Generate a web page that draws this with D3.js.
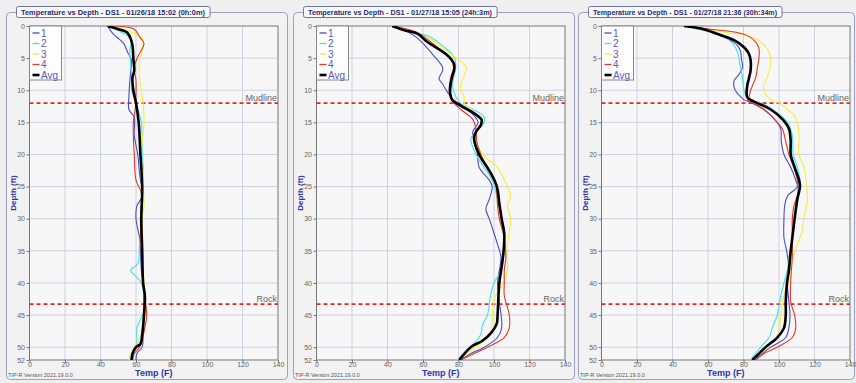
<!DOCTYPE html>
<html>
<head>
<meta charset="utf-8">
<script src="https://cdn.jsdelivr.net/npm/d3@7"></script>
<style>
  html, body { margin: 0; padding: 0; background: #efefef; }
  svg { display: block; font-family: "Liberation Sans", Arial, sans-serif; }
</style>
</head>
<body>
<svg id="chart" width="856" height="383"></svg>
<script>
// Run titles
const runTitles = [
  "Temperature vs Depth - DS1 - 01/26/18 15:02 (0h:0m)",
  "Temperature vs Depth - DS1 - 01/27/18 15:05 (24h:3m)",
  "Temperature vs Depth - DS1 - 01/27/18 21:36 (30h:34m)",
];
const seriesNames = ["1", "2", "3", "4", "Avg"];
const xTicks = [0, 20, 40, 60, 80, 100, 120, 140];
const yTicks = [0, 5, 10, 15, 20, 25, 30, 35, 40, 45, 50, 52];
const markers = [{ label: "Mudline", depth: 12 }, { label: "Rock", depth: 43.3 }];

// [depth ft, temp F] — run 1 (0h:0m)
const run1_s1 = [[0,44],[1.2,47],[2.7,53],[4.2,55.5],[5.3,57.5],[7,57],[8.6,56.5],[11,56],[13,56],[14.2,59],[17,59],[20,61],[23,62],[26.5,63.5],[28,60.5],[30,60],[33,62],[35,62.5],[38,63],[40,64],[45,64.5],[48,64],[50,63.5],[51,60.5],[52,60]];
const run1_s2 = [[0,44],[1,52],[2,57],[4,56.5],[6,57],[8,57.5],[10,57.5],[12,60],[15,63],[20,63.5],[22,64],[25,63.5],[30,63.5],[34,62],[37,61],[38,57],[39,60],[40,63],[42,64.5],[44,65],[46,62],[47,60.5],[49,60.5],[50,60],[51,59],[52,58]];
const run1_s3 = [[0,44],[1,58],[2,63.5],[4,63.5],[5,62],[8,62],[10,63],[12,64],[15,64.5],[18,63.5],[20,63],[25,64],[28,64.5],[30,63.5],[35,63.5],[38,64],[40,64.5],[45,65],[48,63],[50,59.5],[51,57],[52,56]];
const run1_s4 = [[0,44],[0.5,59],[1.7,62],[2.7,64.5],[4.8,61],[6.4,59],[8.5,60],[11,60],[12,60],[15,58.5],[17,58.5],[20,59],[24,60],[26,63],[30,62.5],[35,63],[38,63.5],[40,64],[45,66],[47,65],[50,62],[51,59],[52,58]];
const run1_avg = [[0,44],[0.5,50],[1,55],[2,57],[3,58],[5,58.5],[7,59],[8,58],[10,58.5],[12,60],[15,61.5],[20,62.5],[25,63.5],[30,63],[35,63.5],[40,64],[42,65],[45,64.5],[48,63.5],[49.5,62.5],[50,60],[51,58],[52,57.5]];

// run 2 (24h:3m)
const run2_s1 = [[0,42.7],[0.7,50],[1.7,56],[3,61],[4.6,66],[6.4,71],[7,71],[8.2,69],[9,71],[10.3,73.8],[11,75.6],[12,78],[13.5,87],[15,91],[16.5,88],[18,88.8],[20,90.7],[22,91.6],[24,97.3],[25,99],[27,97.3],[28.5,95.4],[30,97.3],[32,99.7],[34,102],[36,103.9],[40,102],[43,103],[45,104],[47,104.3],[48.5,102],[50,94.5],[51,87],[52,81]];
const run2_s2 = [[0,42.7],[1,55],[1.7,64],[3.3,72],[4.8,77.5],[6.4,78.5],[7.7,77.5],[9.5,76.6],[11,78.5],[12,81],[14,94],[15,94.5],[16.5,89.8],[17.5,87],[20,89.8],[22,94.5],[24,99],[27,102],[30,104],[35,105.8],[38,104],[40,100],[42,98],[45,96.3],[46.5,93.5],[48,92.6],[50,87],[52,79.4]];
const run2_s3 = [[0,42.7],[1,55],[2,64],[4,73.8],[5.5,81.3],[6.5,84.5],[8,82.8],[9,81.3],[10,81.3],[11,83.2],[12,83.2],[14,91.6],[15,93.5],[17,89.8],[20,93.5],[22,102],[24,105.8],[26.5,109.5],[28,107.6],[30,109.5],[32,108.6],[35,107.3],[38,107.6],[40,105.4],[42,101],[45,99],[48,98],[50,89.8],[52,79.4]];
const run2_s4 = [[0,42.7],[1,56.8],[2.5,64.4],[4,71],[5,75.3],[6.5,77.2],[8,75.6],[10,74.7],[11,75.3],[12,77.5],[13,81.3],[14.5,87.9],[16,89.8],[18,90.3],[20,92.6],[22,96.3],[24,100.5],[26,101.6],[28,102],[30,103],[33,105.8],[36,106.7],[38,105.8],[40,105.8],[42,105.8],[45,108.6],[47,108.6],[48.5,105.8],[50,96.3],[51,88.8],[52,81.3]];
const run2_avg = [[0,42.7],[0.7,50],[1.2,56.8],[2.5,62.5],[3.8,70],[4.8,74.7],[5.9,77.5],[6.9,77.5],[7.7,76.6],[9,75.6],[10.5,75.3],[11.5,76.5],[12.5,82],[13.6,88.8],[14.6,93],[15.4,92.6],[16.5,89.8],[17.5,88.8],[20,91.6],[22.5,97.3],[25,101.6],[27.6,103],[30,104.3],[32.3,105.8],[35,105.4],[37.5,104.3],[40,103],[45,102],[46.3,101.6],[47.9,98],[49,93.5],[49.8,87.9],[50.5,85],[52,80.4]];

// run 3 (30h:34m)
const run3_s1 = [[0,46.5],[0.5,57.8],[1.3,65.3],[2,71],[3,76.5],[4,78.4],[5,78.8],[6.5,79.4],[7.5,77.5],[8.5,74.7],[9.5,74.7],[10.5,76.5],[11,78.4],[11.5,80.3],[12,85],[13,91.6],[15,99],[16,101],[18,101.3],[20,102.8],[22,106.6],[24,109.4],[25,110.3],[26.5,104.7],[28,103.2],[30,102.8],[33,102.8],[35,104.3],[38,105.6],[40,104.7],[43,105.6],[45,106.2],[47,105.6],[48.5,103.8],[50,95.3],[51,90.6],[52,86]];
const run3_s2 = [[0,46.5],[1,61.5],[2,71],[3,74.7],[4,76.5],[5,77.5],[6,78],[8,79.4],[10,80.3],[11.5,83.1],[12,89.7],[13.5,99],[15,104.7],[17,107.5],[20,108],[22,110.3],[25,112.2],[27,110.7],[30,108.8],[33,107.5],[36,105.6],[38,104.7],[40,102.8],[42,101],[45,99],[47,96.2],[48.5,94.4],[50,89.7],[52,84]];
const run3_s3 = [[0,46.5],[1,71],[1.5,82.2],[2.5,89.7],[3.5,93.4],[5,95.3],[6.5,95],[8,93.4],[9.5,91.2],[11,93.4],[11.5,96.2],[12,100],[13,104.7],[14,108.8],[15,110.3],[17,111.3],[20,111.3],[22,114],[25,115.6],[27,116],[30,114],[32,113],[34,110.3],[36,108],[38,106.6],[40,105.6],[42,102.8],[45,101],[48,99.4],[50,93.4],[52,85]];
const run3_s4 = [[0,46.5],[0.5,61.5],[1,76.5],[1.5,82.2],[2.5,86.9],[3.5,88.7],[5,88.7],[6.5,87.8],[8,86.9],[10,84],[11,83.1],[11.5,82.2],[12,85],[13,91.6],[15,99],[16,101.9],[18,103.8],[20,105.6],[22,108.4],[24,110.3],[26,110.7],[28,108.4],[30,107.5],[33,107.5],[36,107.5],[38,107],[40,106.6],[43,106.6],[45,108.8],[47,109.4],[48.5,107.5],[50,99],[51,91.6],[52,86.9]];
const run3_avg = [[0,46.5],[0.4,56],[1.2,65],[2.2,74.7],[3.3,80.3],[4.3,83],[5.3,84],[6.9,84],[8.2,83],[9.5,82],[11,82],[11.5,84],[12,87.8],[13,95.3],[14.5,101.9],[16,105.6],[18,106.6],[20,106.6],[22,108.8],[24,111.3],[25,111.8],[27,110.3],[30,108.8],[33,107.5],[35,106.6],[38,105.6],[40,104.5],[43,103.8],[45,103.8],[47,102.8],[48.5,99],[50,92.5],[51,88.7],[52,85]];

const runs = [
  [run1_s1, run1_s2, run1_s3, run1_s4, run1_avg],
  [run2_s1, run2_s2, run2_s3, run2_s4, run2_avg],
  [run3_s1, run3_s2, run3_s3, run3_s4, run3_avg],
];

const seriesColor = ["#4b4bc4", "#3fe3e3", "#f6ef3a", "#e2382a", "#000000"];
const seriesWidth = [1.1, 1.1, 1.1, 1.1, 2.6];

const svg = d3.select("#chart");
const panelLeft = [0, 287, 572];
const panelWidth = [281, 281, 276];

runTitles.forEach((title, i) => {
  const ox = panelLeft[i];
  const g = svg.append("g").attr("transform", `translate(${ox},0)`);

  const plot = { x0: 29.5, x1: 278, y0: 26, y1: 360 };
  const x = d3.scaleLinear().domain([0, 140]).range([plot.x0, plot.x1]);
  const y = d3.scaleLinear().domain([0, 52]).range([plot.y0, plot.y1]);

  // Frame
  g.append("rect")
    .attr("x", 6.5).attr("y", 12.5)
    .attr("width", panelWidth[i]).attr("height", 367)
    .attr("rx", 4)
    .attr("fill", "#f2f2f2")
    .attr("stroke", "#9aa0c0");

  // Plot area
  g.append("rect")
    .attr("x", plot.x0).attr("y", plot.y0)
    .attr("width", plot.x1 - plot.x0).attr("height", plot.y1 - plot.y0)
    .attr("fill", "#f7f7f7");

  // Grid
  g.append("g").selectAll("line").data(xTicks.slice(1, -1)).join("line")
    .attr("x1", (d) => x(d)).attr("x2", (d) => x(d))
    .attr("y1", plot.y0).attr("y2", plot.y1)
    .attr("stroke", "#cfd0e2").attr("stroke-width", 1);
  g.append("g").selectAll("line").data(yTicks.slice(1, -1)).join("line")
    .attr("x1", plot.x0).attr("x2", plot.x1)
    .attr("y1", (d) => y(d)).attr("y2", (d) => y(d))
    .attr("stroke", "#cfd0e2").attr("stroke-width", 1);

  // Axes
  const xAxis = g.append("g")
    .attr("transform", `translate(0,${plot.y1})`)
    .call(d3.axisBottom(x).tickValues(xTicks).tickSize(3).tickPadding(0).tickSizeOuter(0));
  const yAxis = g.append("g")
    .attr("transform", `translate(${plot.x0},0)`)
    .call(d3.axisLeft(y).tickValues(yTicks).tickSize(3).tickPadding(1.5).tickSizeOuter(0));
  [xAxis, yAxis].forEach((a) => {
    a.select(".domain").remove();
    a.selectAll("line").attr("stroke", "#777");
    a.selectAll("text").attr("fill", "#666").attr("font-size", 7);
  });
  xAxis.selectAll("text").attr("dy", "0.62em");

  g.append("rect")
    .attr("x", plot.x0).attr("y", plot.y0)
    .attr("width", plot.x1 - plot.x0).attr("height", plot.y1 - plot.y0)
    .attr("fill", "none").attr("stroke", "#777").attr("stroke-width", 1);

  // Mudline / Rock markers
  markers.forEach((m) => {
    g.append("line")
      .attr("x1", plot.x0).attr("x2", plot.x1)
      .attr("y1", y(m.depth)).attr("y2", y(m.depth))
      .attr("stroke", "#e02a2a").attr("stroke-width", 1.6)
      .attr("stroke-dasharray", "4,3");
    g.append("text")
      .attr("x", plot.x1 - 1).attr("y", y(m.depth) - 2)
      .attr("text-anchor", "end")
      .attr("fill", "#666").attr("font-size", 9)
      .text(m.label);
  });

  // Curves
  const line = d3.line()
    .x((d) => x(d[1]))
    .y((d) => y(d[0]))
    .curve(d3.curveCatmullRom.alpha(0.5));
  const clipId = `clip${i}`;
  g.append("clipPath").attr("id", clipId).append("rect")
    .attr("x", plot.x0).attr("y", plot.y0)
    .attr("width", plot.x1 - plot.x0).attr("height", plot.y1 - plot.y0);
  g.append("g").attr("clip-path", `url(#${clipId})`)
    .selectAll("path").data(runs[i]).join("path")
    .attr("d", line)
    .attr("fill", "none")
    .attr("stroke", (d, k) => seriesColor[k])
    .attr("stroke-width", (d, k) => seriesWidth[k])
    .attr("stroke-linejoin", "round");

  // Legend
  const lg = g.append("g").attr("transform", `translate(${plot.x0},${plot.y0})`);
  lg.append("rect").attr("width", 32).attr("height", 54)
    .attr("fill", "#fdfdfd").attr("stroke", "#888");
  seriesNames.forEach((name, k) => {
    const ly = 7 + k * 10.5;
    lg.append("line").attr("x1", 3).attr("x2", 10).attr("y1", ly).attr("y2", ly)
      .attr("stroke", seriesColor[k]).attr("stroke-width", k === 4 ? 2.6 : 1.3);
    lg.append("text").attr("x", 11.5).attr("y", ly + 3.5)
      .attr("fill", "#5a5ab8").attr("font-size", 10).text(name);
  });

  // Title box
  const titleBox = g.append("rect");
  const tt = g.append("text")
    .attr("x", 21).attr("y", 15)
    .attr("fill", "#1e2a78").attr("font-size", 7.3).attr("font-weight", "bold")
    .attr("textLength", 184).attr("lengthAdjust", "spacingAndGlyphs")
    .text(title);
  const bb = tt.node().getBBox();
  titleBox
    .attr("x", bb.x - 4.5).attr("y", 6.5)
    .attr("width", bb.width + 9).attr("height", 11)
    .attr("rx", 2)
    .attr("fill", "#fafafa").attr("stroke", "#6a74b0");

  // Axis titles
  g.append("text")
    .attr("transform", `translate(16,${(plot.y0 + plot.y1) / 2}) rotate(-90)`)
    .attr("text-anchor", "middle")
    .attr("fill", "#3434a8").attr("font-size", 8).attr("font-weight", "bold")
    .text("Depth (ft)");
  g.append("text")
    .attr("x", (plot.x0 + plot.x1) / 2).attr("y", 376)
    .attr("text-anchor", "middle")
    .attr("fill", "#3434a8").attr("font-size", 9).attr("font-weight", "bold")
    .text("Temp (F)");
  g.append("text")
    .attr("x", 8).attr("y", 377)
    .attr("fill", "#555").attr("font-size", 5.5)
    .text("TIP-R Version 2021.19.0.0");
});
</script>
</body>
</html>
